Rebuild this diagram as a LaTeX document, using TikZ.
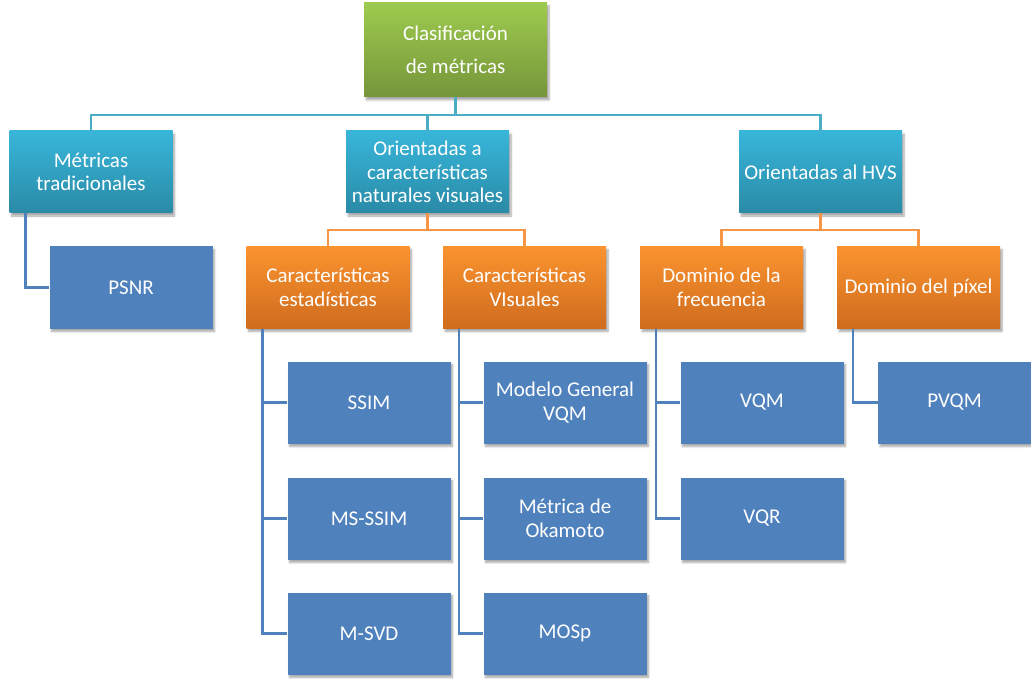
\documentclass[tikz,border=0pt]{standalone}
\usepackage{fontspec}
\setmainfont{Carlito}
\usetikzlibrary{shadows.blur}
\definecolor{gtop}{HTML}{9DCB4E}
\definecolor{gbot}{HTML}{76953A}
\definecolor{ctop}{HTML}{38B6DA}
\definecolor{cbot}{HTML}{2A8AA6}
\definecolor{otop}{HTML}{FA932F}
\definecolor{obot}{HTML}{CF6C1E}
\definecolor{leafblue}{HTML}{4F81BD}
\definecolor{cyanline}{HTML}{4BACC6}
\definecolor{orangeline}{HTML}{F79646}
\tikzset{
  box/.style={rectangle, inner sep=2pt, align=center, text=white,
    font=\fontsize{21}{23.5}\selectfont, minimum width=163pt, minimum height=82pt,
    blur shadow={shadow xshift=2pt, shadow yshift=-3pt, shadow blur steps=6, shadow opacity=35}},
  topbox/.style={box, top color=gtop, bottom color=gbot, minimum width=183pt, minimum height=94pt,
    font=\fontsize{21}{33}\selectfont},
  cbox/.style={box, top color=ctop, bottom color=cbot},
  obox/.style={box, top color=otop, bottom color=obot},
  leaf/.style={box, fill=leafblue},
  cline/.style={draw=cyanline, line width=2.5pt},
  oline/.style={draw=orangeline, line width=2.5pt},
  bline/.style={draw=leafblue, line width=2.5pt},
}
\begin{document}
\begin{tikzpicture}[x=1pt,y=-1pt]
\useasboundingbox (0,0) rectangle (1031,679);
\node[topbox] (top) at (455.5,50) {Clasificación\\de métricas};
\node[cbox] (m1) at (91,172) {Métricas\\tradicionales};
\node[cbox] (m2) at (427.5,172) {Orientadas a\\características\\naturales visuales};
\node[cbox] (m3) at (820.5,172) {Orientadas al HVS};
\node[leaf] (psnr) at (131,287.5) {PSNR};
\node[obox] (ce) at (328,287.5) {Características\\estadísticas};
\node[obox] (cv) at (524.5,287.5) {Características\\VIsuales};
\node[obox] (df) at (721.5,287.5) {Dominio de la\\frecuencia};
\node[obox] (dp) at (918.5,287.5) {Dominio del píxel};
\node[leaf] (ssim) at (369,402.5) {SSIM};
\node[leaf] (msssim) at (369,518.5) {MS-SSIM};
\node[leaf] (msvd) at (369,633.5) {M-SVD};
\node[leaf] (mgv) at (565,402.5) {Modelo General\\VQM};
\node[leaf] (oka) at (565,518.5) {Métrica de\\Okamoto};
\node[leaf] (mosp) at (565,633.5) {MOSp};
\node[leaf] (vqm) at (762,402.5) {VQM};
\node[leaf] (vqr) at (762,518.5) {VQR};
\node[leaf, minimum width=153pt] (pvqm) at (954.5,402.5) {PVQM};
% connectors level 0 -> 1
\foreach \c in {m1,m2,m3} \draw[cline] (top.south) -- ++(0,18) -| (\c.north);
% level 1 -> 2
\foreach \c in {ce,cv} \draw[oline] (m2.south) -- ++(0,17) -| (\c.north);
\foreach \c in {df,dp} \draw[oline] (m3.south) -- ++(0,17) -| (\c.north);
% leaves
\draw[bline] (m1.south west) ++(16,0) |- (psnr.west);
\foreach \c in {ssim,msssim,msvd} \draw[bline] (ce.south west) ++(16,0) |- (\c.west);
\foreach \c in {mgv,oka,mosp} \draw[bline] (cv.south west) ++(16,0) |- (\c.west);
\foreach \c in {vqm,vqr} \draw[bline] (df.south west) ++(16,0) |- (\c.west);
\draw[bline] (dp.south west) ++(16,0) |- (pvqm.west);
\end{tikzpicture}
\end{document}
